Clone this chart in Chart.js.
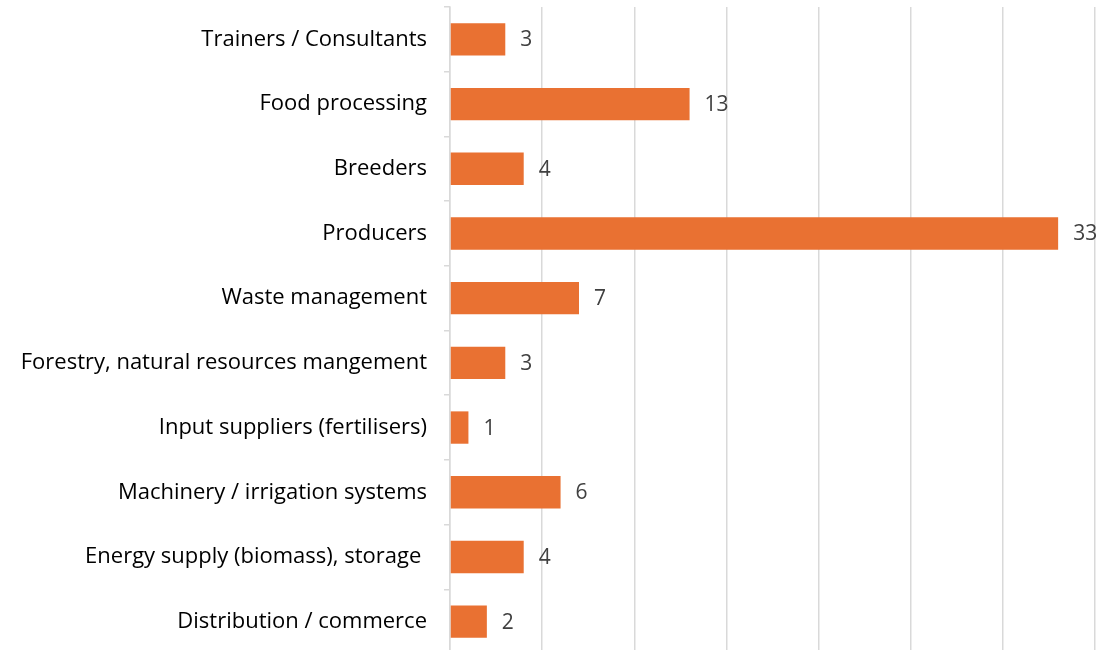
<!DOCTYPE html>
<html>
<head>
<meta charset="utf-8">
<script src="https://cdn.jsdelivr.net/npm/chart.js@4"></script>
<style>
  html, body { margin: 0; padding: 0; background: #fff; overflow: hidden; }
  canvas { display: block; }
</style>
</head>
<body>
<canvas id="sectorChart" width="1102" height="656"></canvas>
<script>
// stakeholder categories, top to bottom
const categories = [
  "Trainers / Consultants",
  "Food processing",
  "Breeders",
  "Producers",
  "Waste management",
  "Forestry, natural resources mangement",
  "Input suppliers (fertilisers)",
  "Machinery / irrigation systems",
  "Energy supply (biomass), storage ",
  "Distribution / commerce"
];
const counts = [3, 13, 4, 33, 7, 3, 1, 6, 4, 2];

const axisMax = 35;
const axisStep = 5;

// draws the count to the right of each bar
const valueLabels = {
  id: "valueLabels",
  afterDatasetsDraw(chart) {
    const ctx = chart.ctx;
    const meta = chart.getDatasetMeta(0);
    ctx.save();
    ctx.font = "21px 'Open Sans'";
    ctx.fillStyle = "#404040";
    ctx.textAlign = "left";
    ctx.textBaseline = "middle";
    meta.data.forEach((bar, i) => {
      ctx.fillText(String(counts[i]), bar.x + 15, bar.y + 1);
    });
    ctx.restore();
  }
};

const ctx = document.getElementById("sectorChart").getContext("2d");

new Chart(ctx, {
  type: "bar",
  data: {
    labels: categories,
    datasets: [
      {
        data: counts,
        backgroundColor: "#E97132",
        borderWidth: 0,
        barPercentage: 0.5,
        categoryPercentage: 1.0,
      },
    ],
  },
  options: {
    indexAxis: "y",
    responsive: false,
    animation: false,
    layout: { padding: { top: 7, right: 7, bottom: 2, left: 0 } },
    plugins: {
      legend: { display: false },
      tooltip: { enabled: false },
    },
    scales: {
      x: {
        min: 0,
        max: axisMax,
        afterFit(scale) {
          scale.height = 0;
        },
        ticks: { display: false, stepSize: axisStep },
        grid: { color: "#d9d9d9", lineWidth: 1.5, drawTicks: false },
        border: { display: false },
      },
      y: {
        afterFit(scale) {
          scale.width = 450;
          scale.paddingTop = 0;
          scale.paddingBottom = 0;
        },
        ticks: {
          color: "#000",
          font: { family: "'Open Sans'", size: 22 },
          padding: 17,
        },
        grid: {
          offset: true,
          drawOnChartArea: false,
          color: "#d9d9d9",
          lineWidth: 1.5,
          tickLength: 6,
        },
        border: { color: "#d9d9d9", width: 1.5 },
      },
    },
  },
  plugins: [valueLabels],
});
</script>
</body>
</html>
